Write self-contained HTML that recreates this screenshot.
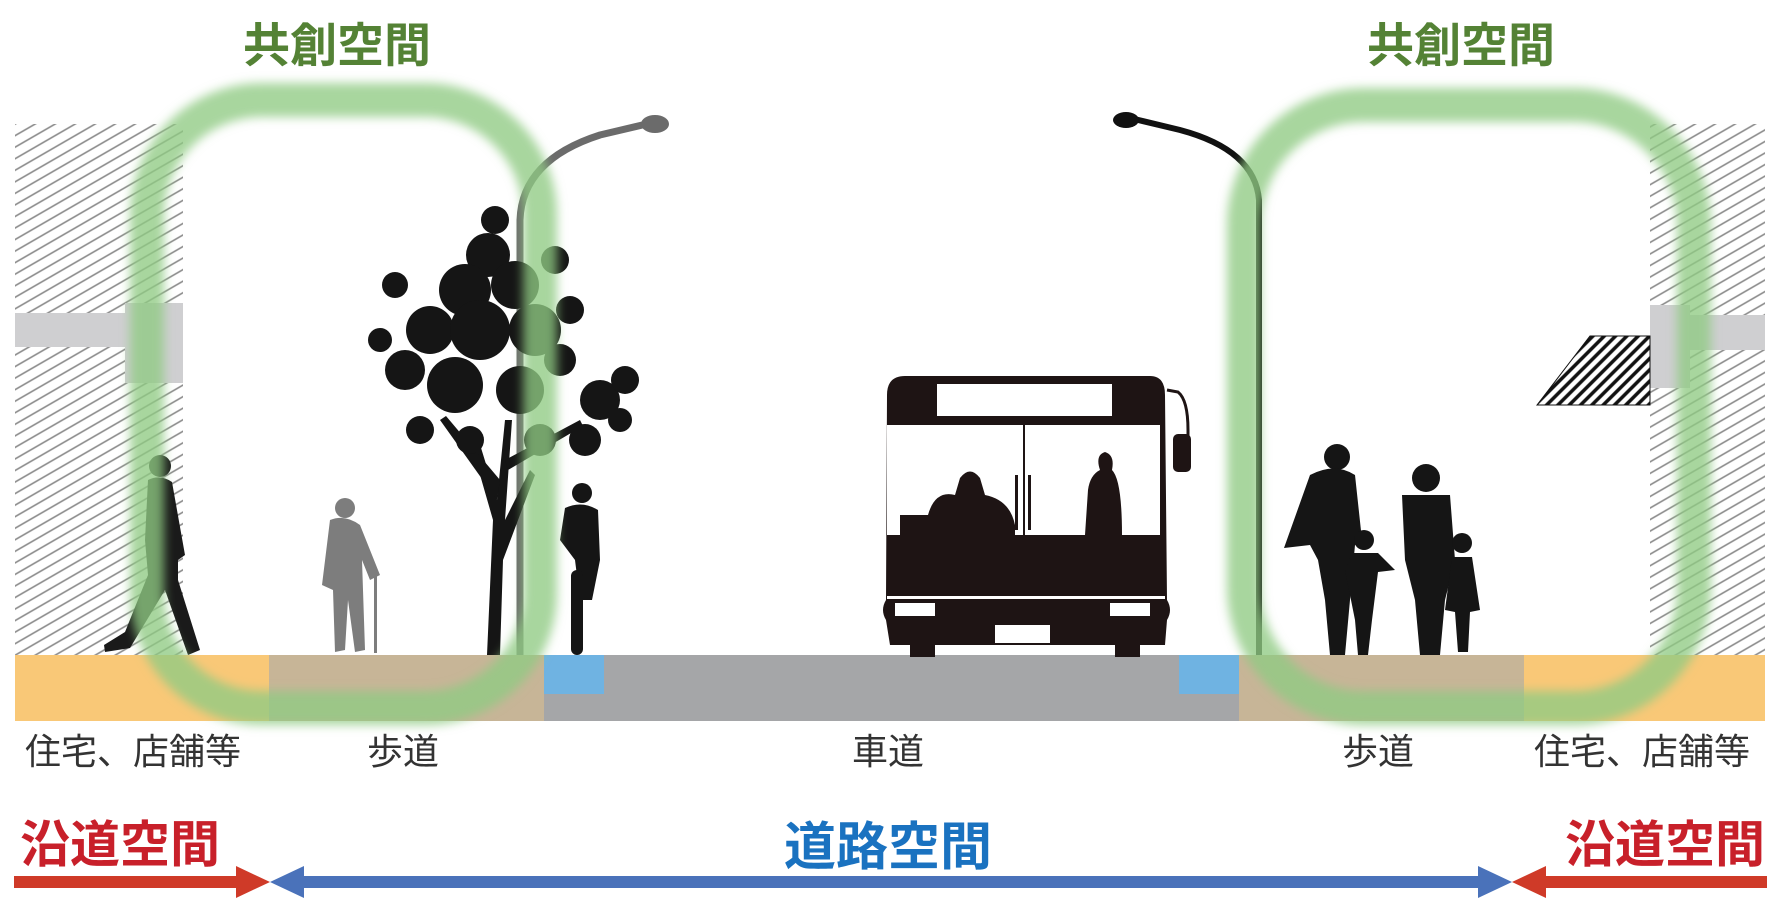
<!DOCTYPE html>
<html><head><meta charset="utf-8"><style>
html,body{margin:0;padding:0;background:#fff;}
svg{display:block}
text{font-family:"Liberation Sans","Noto Sans CJK JP",sans-serif;}
</style></head><body>
<svg width="1777" height="922" viewBox="0 0 1777 922" xmlns="http://www.w3.org/2000/svg">
<defs>
<pattern id="hatch" width="10" height="10" patternUnits="userSpaceOnUse" patternTransform="rotate(-30)">
<rect width="10" height="10" fill="#fff"/><line x1="0" y1="5" x2="10" y2="5" stroke="#8a8a8a" stroke-width="1.6"/>
</pattern>
<pattern id="hatch2" width="8" height="8" patternUnits="userSpaceOnUse" patternTransform="rotate(-45)">
<rect width="8" height="8" fill="#fff"/><line x1="0" y1="4" x2="8" y2="4" stroke="#111" stroke-width="3.5"/>
</pattern>
<filter id="blur" x="-10%" y="-10%" width="120%" height="120%"><feGaussianBlur stdDeviation="5"/></filter>
</defs>

<rect x="15" y="124" width="168" height="531" fill="url(#hatch)"/>
<rect x="15" y="313" width="120" height="34" fill="#cfcfd1"/>
<rect x="125" y="303" width="58" height="80" fill="#cfcfd1"/>
<rect x="1650" y="124" width="115" height="531" fill="url(#hatch)"/>
<rect x="1650" y="305" width="40" height="83" fill="#cfcfd1"/>
<rect x="1690" y="315" width="75" height="35" fill="#cfcfd1"/>
<polygon points="1537,405 1590,336 1650,336 1650,405" fill="url(#hatch2)" stroke="#111" stroke-width="1"/>

<rect x="15" y="655" width="254" height="66" fill="#f9c877"/>
<rect x="269" y="655" width="275" height="66" fill="#c7b597"/>
<rect x="544" y="655" width="695" height="66" fill="#a5a6a8"/>
<rect x="544" y="655" width="60" height="39" fill="#6fb3e2"/>
<rect x="1179" y="655" width="60" height="39" fill="#6fb3e2"/>
<rect x="1239" y="655" width="285" height="66" fill="#c7b597"/>
<rect x="1524" y="655" width="241" height="66" fill="#f9c877"/>

<path d="M520,655 L520,220 Q522,160 600,135 L655,122" fill="none" stroke="#6b6b6b" stroke-width="7"/>
<ellipse cx="655" cy="124" rx="14" ry="9" fill="#6b6b6b"/>
<path d="M1259,655 L1259,200 Q1255,150 1180,130 L1130,118" fill="none" stroke="#111" stroke-width="6"/>
<ellipse cx="1126" cy="120" rx="13" ry="8" fill="#111"/>

<!-- tree -->
<g fill="#151515">
<path d="M487,655 L493,520 L470,440 L478,438 L497,500 L505,420 L512,420 L505,520 L530,470 L535,475 L503,560 L500,655 Z"/>
<path d="M497,500 L440,420 L446,416 L500,480 Z"/>
<path d="M505,460 L580,420 L583,426 L508,470 Z"/>
<circle cx="495" cy="220" r="14"/><circle cx="488" cy="255" r="22"/><circle cx="465" cy="290" r="26"/><circle cx="515" cy="285" r="24"/>
<circle cx="430" cy="330" r="24"/><circle cx="480" cy="330" r="30"/><circle cx="535" cy="330" r="26"/>
<circle cx="405" cy="370" r="20"/><circle cx="455" cy="385" r="28"/><circle cx="520" cy="390" r="24"/>
<circle cx="395" cy="285" r="13"/><circle cx="555" cy="260" r="14"/><circle cx="570" cy="310" r="14"/>
<circle cx="420" cy="430" r="14"/><circle cx="470" cy="440" r="14"/><circle cx="540" cy="440" r="16"/>
<circle cx="600" cy="400" r="20"/><circle cx="625" cy="380" r="14"/><circle cx="585" cy="440" r="16"/><circle cx="620" cy="420" r="12"/>
<circle cx="380" cy="340" r="12"/><circle cx="560" cy="360" r="16"/>
</g>

<g fill="#1a1a1a">
<circle cx="160" cy="466" r="11"/>
<path d="M148,480 Q160,474 172,482 L185,555 L178,560 L178,580 L200,650 L188,655 L165,590 L130,648 L105,652 L104,645 L125,632 L148,575 L145,540 Z"/>
</g>
<g fill="#7d7d7d">
<circle cx="345" cy="508" r="10"/>
<path d="M330,520 Q345,514 360,525 L380,575 L370,580 L362,560 L365,650 L355,652 L348,600 L345,650 L335,652 L333,590 L322,585 Z"/>
<rect x="374" y="570" width="3" height="83"/>
</g>
<g fill="#151515">
<circle cx="582" cy="493" r="10"/>
<path d="M565,508 Q582,500 598,510 L600,560 L592,600 L580,600 L575,560 L560,540 Z"/>
<rect x="571" y="570" width="12" height="85" rx="6"/>
</g>

<g>
<path d="M887,395 Q887,376 905,376 L1150,376 Q1165,376 1165,395 L1167,600 Q1173,610 1167,620 L1165,645 L1140,645 L1140,657 L1115,657 L1115,645 L935,645 L935,657 L910,657 L910,645 L890,645 L886,620 Q880,610 886,600 Z" fill="#1e1414"/>
<rect x="937" y="384" width="175" height="32" fill="#fff"/>
<rect x="887" y="425" width="273" height="110" fill="#fff"/>
<rect x="1023" y="425" width="2" height="110" fill="#1e1414"/>
<path d="M900,535 L900,515 L928,515 Q935,490 955,495 L960,478 Q970,465 980,478 L985,495 Q1010,500 1015,525 L1015,535 Z" fill="#1e1414"/>
<path d="M1085,535 L1088,490 Q1090,475 1100,470 Q1095,455 1105,452 Q1115,455 1112,470 Q1122,480 1122,535 Z" fill="#1e1414"/>
<rect x="1015" y="475" width="3" height="55" fill="#1e1414"/><rect x="1028" y="475" width="3" height="55" fill="#1e1414"/>
<rect x="895" y="603" width="40" height="13" fill="#fff"/><rect x="1110" y="603" width="40" height="13" fill="#fff"/>
<rect x="995" y="625" width="55" height="18" fill="#fff"/>
<rect x="887" y="596" width="278" height="3" fill="#fff"/>
<path d="M1167,390 L1178,392 Q1188,400 1188,430 L1188,450" fill="none" stroke="#1e1414" stroke-width="3"/>
<rect x="1173" y="434" width="18" height="38" rx="5" fill="#1e1414"/>
</g>

<g fill="#151515">
<circle cx="1337" cy="457" r="13"/>
<path d="M1310,475 Q1335,462 1355,475 L1362,540 L1355,545 L1350,600 L1345,655 L1330,655 L1325,600 L1318,560 L1310,545 L1284,548 Z"/>
<circle cx="1364" cy="540" r="10"/>
<path d="M1352,553 L1378,553 L1395,570 L1378,572 L1372,620 L1368,655 L1358,655 L1355,620 L1345,570 Z"/>
<circle cx="1426" cy="478" r="14"/>
<path d="M1402,495 L1450,495 L1455,560 L1445,600 L1440,655 L1420,655 L1415,600 L1405,560 Z"/>
<circle cx="1462" cy="543" r="10"/>
<path d="M1452,557 L1472,557 L1480,610 L1470,612 L1468,652 L1458,652 L1455,612 L1445,610 Z"/>
</g>

<rect x="147" y="100" width="393" height="608" rx="115" fill="none" stroke="#8fcb83" stroke-opacity="0.78" stroke-width="34" filter="url(#blur)"/>
<rect x="1244" y="105" width="450" height="603" rx="120" fill="none" stroke="#8fcb83" stroke-opacity="0.78" stroke-width="34" filter="url(#blur)"/>

<text x="337" y="62" font-size="47" font-weight="bold" fill="#548235" text-anchor="middle">共創空間</text>
<text x="1461" y="62" font-size="47" font-weight="bold" fill="#548235" text-anchor="middle">共創空間</text>

<g font-size="36" fill="#333" text-anchor="middle">
<text x="133" y="764">住宅、店舗等</text>
<text x="403" y="764">歩道</text>
<text x="888" y="764">車道</text>
<text x="1378" y="764">歩道</text>
<text x="1642" y="764">住宅、店舗等</text>
</g>

<text x="120" y="862" font-size="50" font-weight="bold" fill="#c8202a" text-anchor="middle">沿道空間</text>
<text x="1665" y="862" font-size="50" font-weight="bold" fill="#c8202a" text-anchor="middle">沿道空間</text>
<text x="888" y="865" font-size="52" font-weight="bold" fill="#1a72c0" text-anchor="middle">道路空間</text>

<rect x="14" y="876" width="225" height="12" fill="#cf3a28"/>
<polygon points="236,866 270,882 236,898" fill="#cf3a28"/>
<rect x="1542" y="876" width="225" height="12" fill="#cf3a28"/>
<polygon points="1546,866 1512,882 1546,898" fill="#cf3a28"/>
<rect x="300" y="876" width="1190" height="12" fill="#4a72ba"/>
<polygon points="304,866 270,882 304,898" fill="#4a72ba"/>
<polygon points="1478,866 1512,882 1478,898" fill="#4a72ba"/>
</svg>
</body></html>
